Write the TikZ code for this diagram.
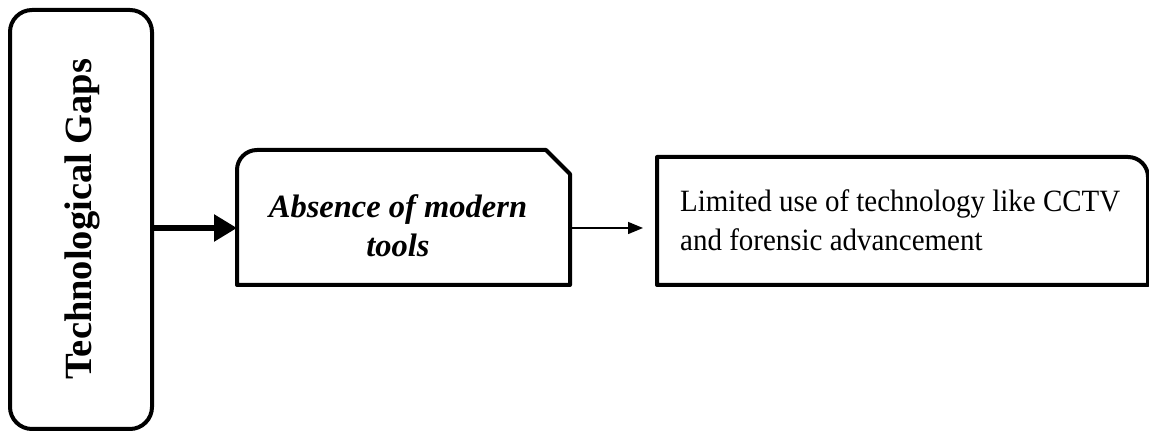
\documentclass[tikz,border=0pt]{standalone}
\usepackage{fontspec}
\usepackage{graphicx}
\setmainfont{Liberation Serif}
\usetikzlibrary{arrows.meta}
\begin{document}
\begin{tikzpicture}[x=1pt,y=1pt,
  frame/.style={draw=black,line width=4pt,line join=round},
  bigarrow/.style={line width=5.5pt,-{Triangle[length=23pt,width=26pt]}},
  smallarrow/.style={line width=1.5pt,-{Triangle[length=15pt,width=12pt]}},
  txt/.style={inner sep=0pt,font=\fontsize{31}{39}\selectfont}]
\useasboundingbox (0,0) rectangle (1149,433);
\clip (0,0) rectangle (1149,433);
% heading box with rotated title
\draw[frame,rounded corners=22pt] (10,4) rectangle (152,423);
\node[txt,rotate=90,font=\fontsize{38.5}{44}\selectfont\bfseries] (title) at (82,214) {Technological Gaps};
\coordinate (tR) at (152,205);
% middle box: rounded top-left, snipped top-right
\draw[frame] (237,148) -- (237,263) arc[start angle=180,end angle=90,radius=20]
  -- (546,283) -- (570,259) -- (570,148) -- cycle;
\node[txt,align=center,font=\fontsize{32.5}{39}\selectfont\bfseries\itshape] (gap) at (398,207.5) {Absence of modern\\tools};
\coordinate (gL) at (237,205);
\coordinate (gR) at (570,205);
% right box, running off the page edge
\draw[frame] (657,148) -- (657,276) -- (1128,276) arc[start angle=90,end angle=0,radius=20] -- (1148,148) -- cycle;
\node[txt,anchor=west] (detail) at (680,210)
  {\resizebox{440pt}{\height}{\begin{tabular}{@{}l@{}}Limited use of technology like CCTV\\and forensic advancement\end{tabular}}};
\coordinate (dL) at (643,205);
% connectors
\draw[bigarrow] (tR) -- (gL);
\draw[smallarrow] (gR) -- (dL);
\end{tikzpicture}
\end{document}
